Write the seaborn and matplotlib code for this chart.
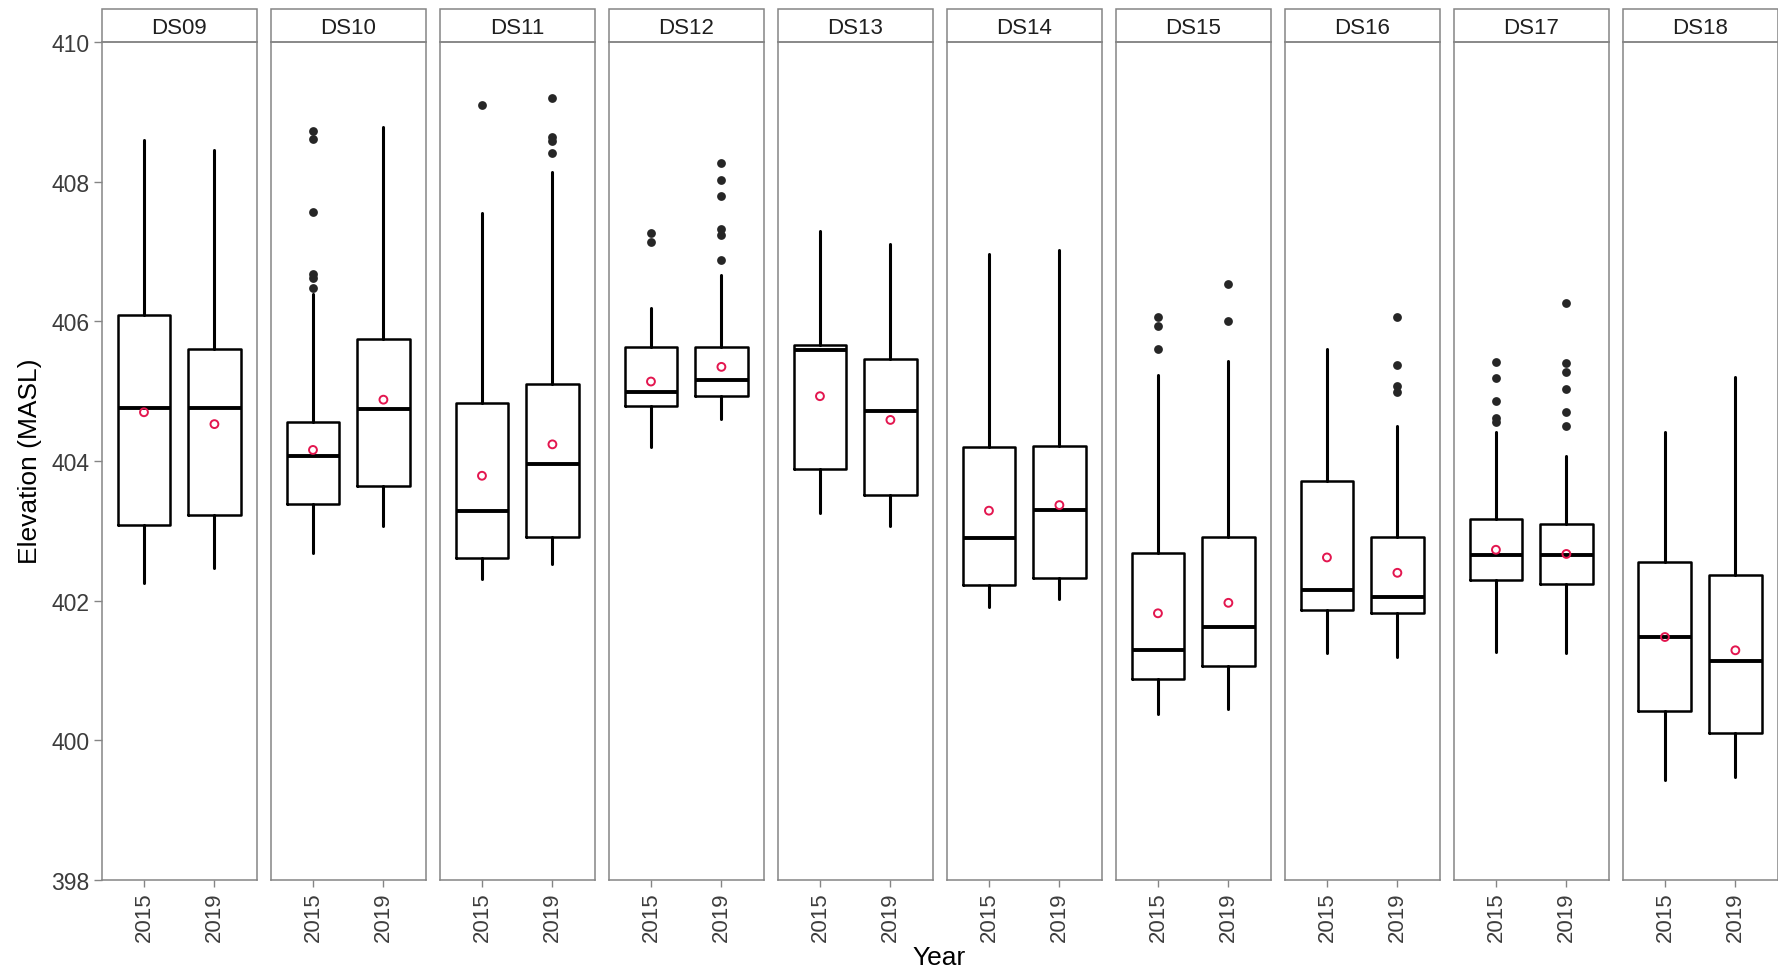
import matplotlib
matplotlib.use("Agg")
import matplotlib.pyplot as plt
from matplotlib.patches import Rectangle
import pandas as pd
import seaborn as sns

# ---- data: elevation summaries per dam site and survey year ----
sites = ["DS09", "DS10", "DS11", "DS12", "DS13", "DS14", "DS15", "DS16", "DS17", "DS18"]
years = ["2015", "2019"]

# each entry: (2015, 2019)
whisker_low = [(402.26, 402.47), (402.69, 403.07), (402.31, 402.52), (404.20, 404.60), (403.25, 403.07),
               (401.91, 402.02), (400.38, 400.45), (401.25, 401.19), (401.27, 401.25), (399.43, 399.48)]
q1 = [(403.08, 403.23), (403.38, 403.65), (402.61, 402.92), (404.79, 404.93), (403.89, 403.52),
      (402.23, 402.33), (400.88, 401.06), (401.87, 401.83), (402.30, 402.24), (400.42, 400.11)]
median = [(404.76, 404.76), (404.07, 404.74), (403.28, 403.96), (404.99, 405.16), (405.59, 404.72),
          (402.90, 403.30), (401.30, 401.62), (402.16, 402.06), (402.66, 402.66), (401.48, 401.13)]
q3 = [(406.09, 405.60), (404.56, 405.75), (404.83, 405.10), (405.63, 405.64), (405.66, 405.46),
      (404.20, 404.22), (402.68, 402.92), (403.72, 402.92), (403.17, 403.10), (402.56, 402.37)]
whisker_high = [(408.60, 408.46), (406.40, 408.79), (407.56, 408.14), (406.19, 406.67), (407.30, 407.11),
                (406.97, 407.03), (405.24, 405.44), (405.60, 404.50), (404.42, 404.07), (404.42, 405.20)]
mean = [(404.70, 404.53), (404.16, 404.88), (403.79, 404.24), (405.14, 405.35), (404.93, 404.59),
        (403.29, 403.37), (401.82, 401.97), (402.62, 402.40), (402.73, 402.67), (401.48, 401.29)]
outliers = [
    ([], []),
    ([408.73, 408.62, 407.57, 406.68, 406.62, 406.48], []),
    ([409.10], [409.20, 408.65, 408.58, 408.42]),
    ([407.27, 407.14], [408.27, 408.02, 407.80, 407.32, 407.24, 406.88]),
    ([], []),
    ([], []),
    ([406.07, 405.94, 405.61], [406.54, 406.01]),
    ([], [406.07, 405.38, 405.08, 404.99]),
    ([405.42, 405.19, 404.86, 404.62, 404.56], [406.27, 405.40, 405.27, 405.03, 404.71, 404.50]),
    ([], []),
]
y_ticks = [398, 400, 402, 404, 406, 408, 410]

# ---- tidy tables ----
rows, out_rows = [], []
for i, s in enumerate(sites):
    for j, yr in enumerate(years):
        rows.append(dict(site=s, year=yr, pos=j,
                         whislo=whisker_low[i][j], q1=q1[i][j], med=median[i][j],
                         q3=q3[i][j], whishi=whisker_high[i][j], mean=mean[i][j]))
        for v in outliers[i][j]:
            out_rows.append(dict(site=s, year=yr, pos=j, elev=v))
stats_df = pd.DataFrame(rows)
out_df = pd.DataFrame(out_rows)

# ---- style ----
sns.set_theme(style="white")
plt.rcParams["font.family"] = ["Liberation Sans", "DejaVu Sans"]
GREY_TXT = "#3c3c3c"
BORDER = "#858585"
MEAN_RED = "#e3164f"


def draw_panel(data, **kws):
    ax = plt.gca()
    stats = [dict(whislo=r.whislo, q1=r.q1, med=r.med, q3=r.q3, whishi=r.whishi, fliers=[])
             for r in data.itertuples()]
    ax.bxp(stats, positions=list(data["pos"]), widths=0.75, showfliers=False, showcaps=False,
           boxprops=dict(color="black", linewidth=1.8),
           whiskerprops=dict(color="black", linewidth=2.2),
           medianprops=dict(color="black", linewidth=2.8, solid_capstyle="butt"),
           manage_ticks=False)
    site = data["site"].iloc[0]
    sub = out_df[out_df["site"] == site]
    if len(sub):
        sns.scatterplot(data=sub, x="pos", y="elev", ax=ax, color="#262626", s=40,
                        linewidth=0, legend=False, zorder=3)
    sns.scatterplot(data=data, x="pos", y="mean", ax=ax, marker="o", facecolor="none",
                    edgecolor=MEAN_RED, s=32, linewidth=1.4, legend=False, zorder=4)


g = sns.FacetGrid(stats_df, col="site", col_order=sites, height=9.70, aspect=17.78 / 9.70 / 10,
                  sharey=True, sharex=True, despine=False)
g.map_dataframe(draw_panel)
g.set_titles("")
g.set_axis_labels("", "")

fig = g.figure
fig.set_size_inches(17.78, 9.70)
fig.subplots_adjust(left=0.0572, right=0.9998, top=0.9554, bottom=0.0918, wspace=0.0903)

strip_h = 33.3 / 837.7
for k, (ax, s) in enumerate(zip(g.axes.flat, sites)):
    ax.set_xlim(-0.6, 1.6)
    ax.set_ylim(398, 410)
    ax.set_yticks(y_ticks)
    ax.set_xticks([0, 1])
    ax.set_xticklabels(years, rotation=90, fontsize=16, color=GREY_TXT)
    ax.tick_params(axis="y", labelsize=16.5, labelcolor=GREY_TXT, length=6, width=1,
                   color=BORDER, pad=3, left=(k == 0))
    ax.tick_params(axis="x", length=5, width=1, color=BORDER, pad=3, bottom=True)
    ax.grid(False)
    for sp in ax.spines.values():
        sp.set_visible(True)
        sp.set_color(BORDER)
        sp.set_linewidth(1.1)
    ax.add_patch(Rectangle((0, 1), 1, strip_h, transform=ax.transAxes, clip_on=False,
                           facecolor="white", edgecolor=BORDER, linewidth=1.1))
    ax.text(0.5, 1 + strip_h / 2 - 0.002, s, transform=ax.transAxes, ha="center", va="center",
            fontsize=16, color="#1f1f1f")

fig.text(30 / 1778, 1 - 461 / 970, "Elevation (MASL)", rotation=90, ha="center", va="center",
         fontsize=19, color="black")
fig.text(939 / 1778, 1 - 958 / 970, "Year", ha="center", va="center", fontsize=19, color="black")

fig.savefig("out.png", dpi=100, facecolor="white")
